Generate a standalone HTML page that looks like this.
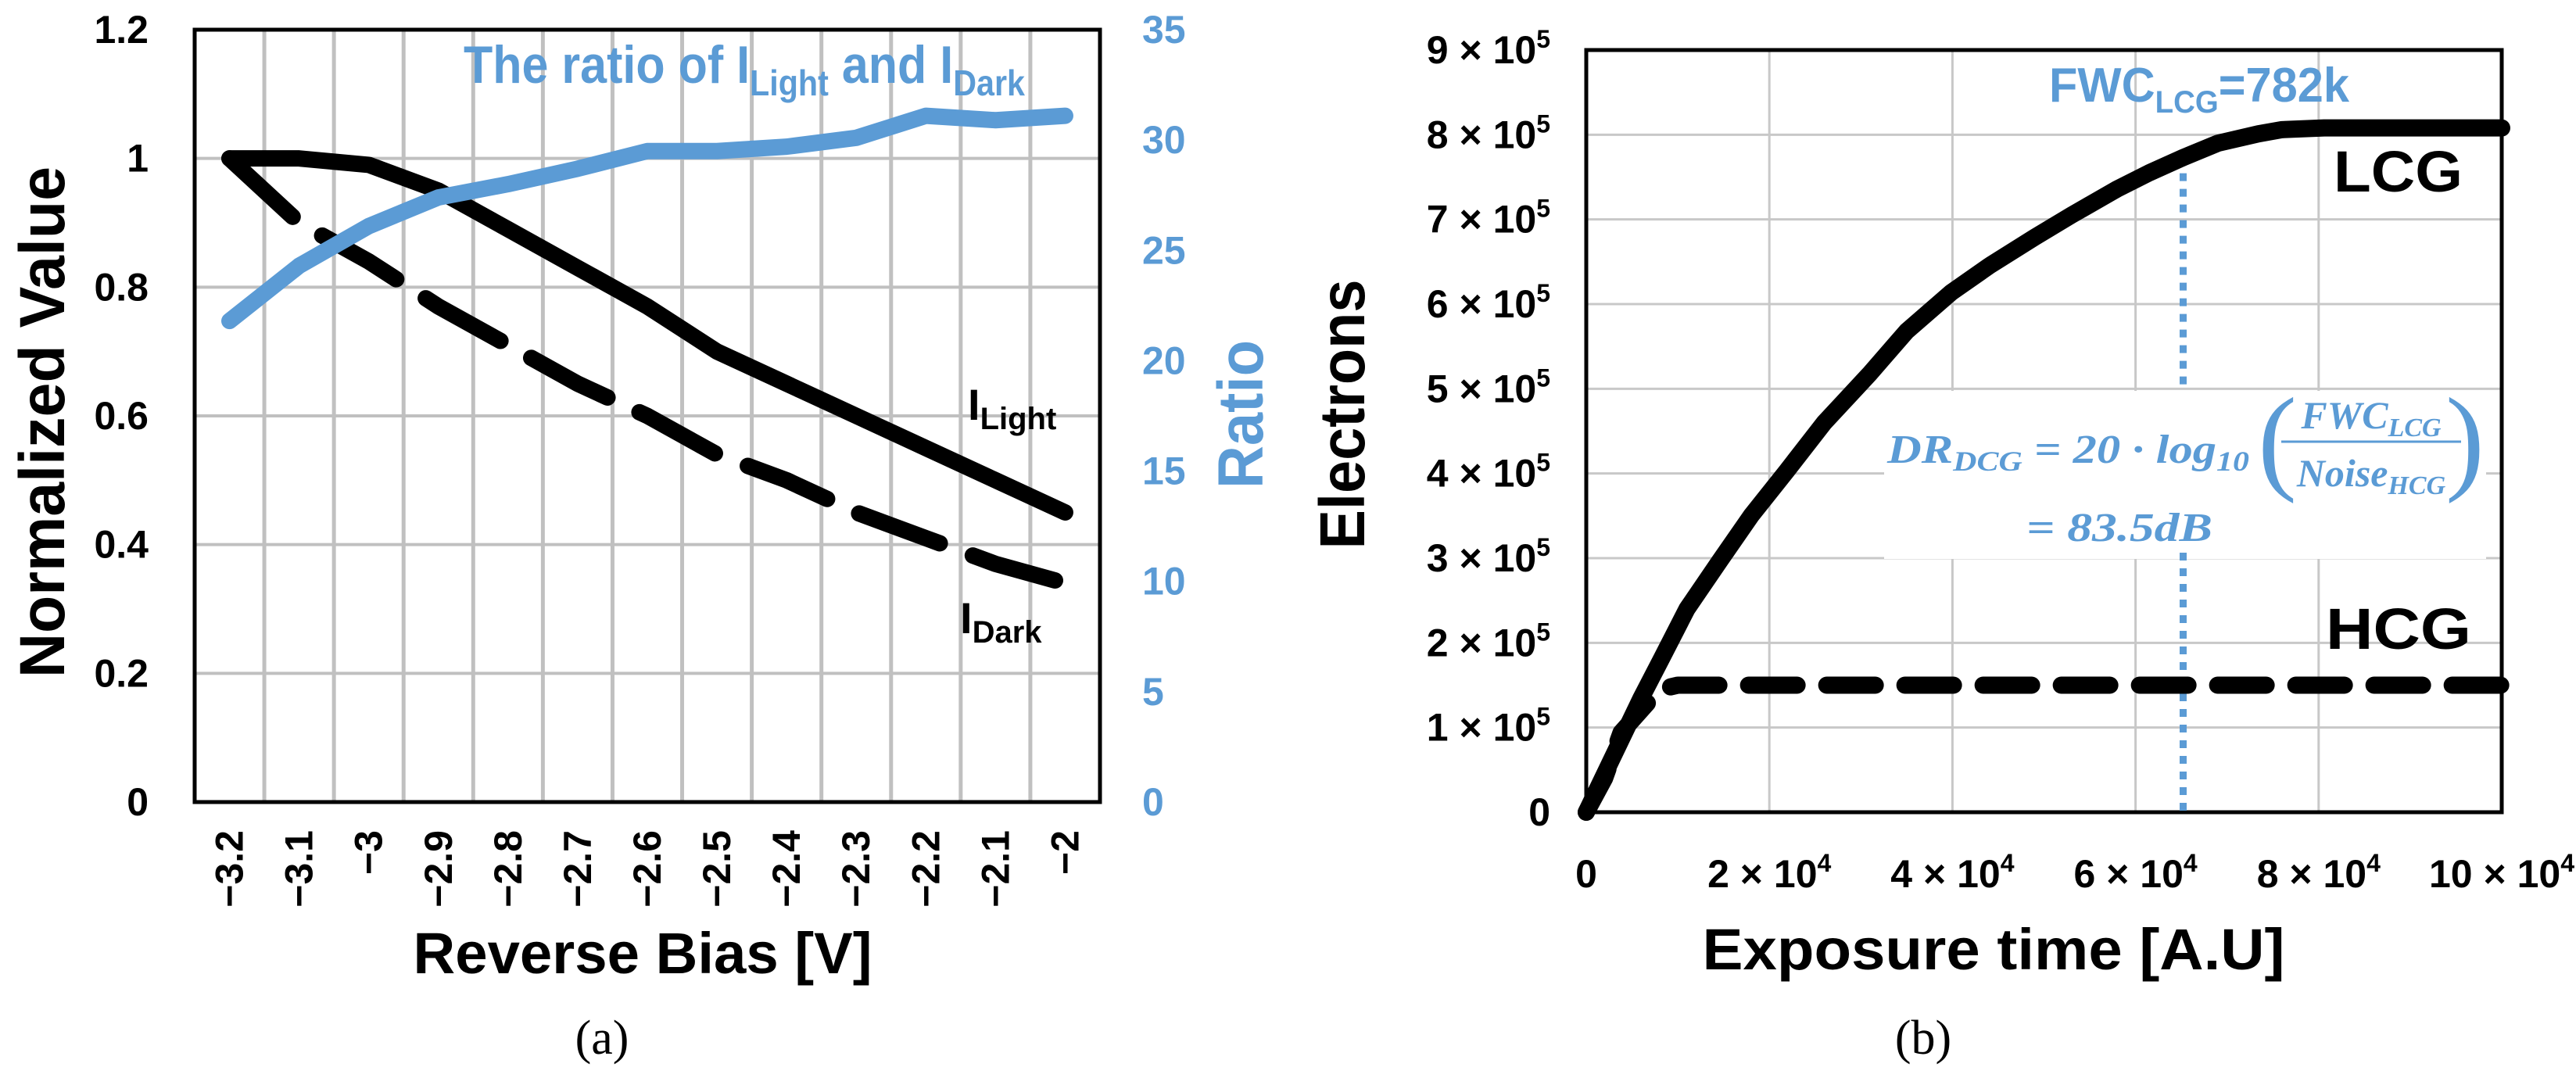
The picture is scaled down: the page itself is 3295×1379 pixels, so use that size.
<!DOCTYPE html>
<html><head><meta charset="utf-8"><style>
html,body{margin:0;padding:0;background:#fff;}
svg{display:block;font-family:"Liberation Sans",sans-serif;}
</style></head><body>
<svg id="fig" width="3295" height="1379" viewBox="0 0 3295 1379" xmlns="http://www.w3.org/2000/svg">
<g id="chartA"></g>
<g id="chartB"></g>
</svg>
<script>
// ---- Chart (a) data ----
const biasCategories = ["−3.2","−3.1","−3","−2.9","−2.8","−2.7","−2.6","−2.5","−2.4","−2.3","−2.2","−2.1","−2"];
const lightValues = [1.0,1.0,0.99,0.95,0.89,0.83,0.77,0.70,0.65,0.60,0.55,0.50,0.45];
const darkValues = [1.0,0.90,0.84,0.77,0.71,0.65,0.60,0.54,0.50,0.45,0.41,0.37,0.34];
const ratioValues = [21.8,24.3,26.1,27.4,28.0,28.7,29.5,29.5,29.7,30.1,31.1,30.9,31.1];
const leftTicks = [0,0.2,0.4,0.6,0.8,1,1.2];
const leftTickLabels = ["0","0.2","0.4","0.6","0.8","1","1.2"];
const rightTicks = [0,5,10,15,20,25,30,35];
// ---- Chart (b) data ----
const lcgTime = [0,2000,4000,6000,8300,11000,14600,18000,21900,26000,30900,35000,39900,44000,49000,53000,58000,61500,65200,69000,73400,76000,80600,100000];
const lcgElectrons = [0,45000,90000,135000,183000,240000,297000,350000,403000,460000,517000,568000,614000,645000,679000,705000,736000,755000,773000,790000,801000,806000,808000,808000];
const hcgTime = [0,2000,3800,8000,10000,100000];
const hcgElectrons = [0,40000,94000,145000,150000,150000];
const expTicks = [0,20000,40000,60000,80000,100000];
const expTickMant = ["0","2","4","6","8","10"];
const eleTicks = [0,100000,200000,300000,400000,500000,600000,700000,800000,900000];
const eleTickMant = ["0","1","2","3","4","5","6","7","8","9"];
const fwcTime = 65200;

const NS="http://www.w3.org/2000/svg";
const BLUE="#5b9bd5";
function mk(parent,tag,attrs,text){const e=document.createElementNS(NS,tag);for(const k in attrs)e.setAttribute(k,attrs[k]);if(text!==undefined)e.textContent=text;parent.appendChild(e);return e;}

// ===== Chart (a) =====
const A=document.getElementById('chartA');
const aL=249,aR=1407,aT=38,aB=1026;
const cw=(aR-aL)/biasCategories.length;
const xA=i=>aL+cw*(i+0.5);
const yL=v=>aB-v/1.2*(aB-aT);
const yR=v=>aB-v/35*(aB-aT);
for(let k=1;k<biasCategories.length;k++){
  const g=mk(A,'line',{x1:aL+cw*k,x2:aL+cw*k,y1:aT,y2:aB,stroke:'#c0c0c0','stroke-width':5});
  
  
}
leftTicks.forEach((v,i)=>{
  if(v>0&&v<1.2){const g=mk(A,'line',{x1:aL,x2:aR,y1:yL(v),y2:yL(v),stroke:'#c0c0c0','stroke-width':4});
  
  }
  const t=mk(A,'text',{x:190,y:yL(v),'text-anchor':'end','dominant-baseline':'central','font-size':50,'font-weight':'bold',fill:'#000'},leftTickLabels[i]);
  
  
});
rightTicks.forEach(v=>{
  const t=mk(A,'text',{x:1461,y:yR(v),'dominant-baseline':'central','font-size':50,'font-weight':'bold',fill:BLUE},String(v));
  
  
});
biasCategories.forEach((c,i)=>{
  const t=mk(A,'text',{x:0,y:0,transform:`translate(${xA(i)},1062) rotate(-90)`,'text-anchor':'end','dominant-baseline':'central','font-size':50,'font-weight':'bold',fill:'#000'},c);
  
  
});
mk(A,'rect',{x:aL,y:aT,width:aR-aL,height:aB-aT,fill:'none',stroke:'#000','stroke-width':5,});
function pts(xs,ys){return xs.map((x,i)=>x+','+ys[i]).join(' ');}
const darkLine=mk(A,'polyline',{points:pts(darkValues.map((_,i)=>xA(i)),darkValues.map(yL)),fill:'none',stroke:'#000','stroke-width':21,'stroke-dasharray':'110 45','stroke-linecap':'round','stroke-linejoin':'round'});


const lightLine=mk(A,'polyline',{points:pts(lightValues.map((_,i)=>xA(i)),lightValues.map(yL)),fill:'none',stroke:'#000','stroke-width':21,'stroke-linecap':'round','stroke-linejoin':'round'});


const ratioLine=mk(A,'polyline',{points:pts(ratioValues.map((_,i)=>xA(i)),ratioValues.map(yR)),fill:'none',stroke:BLUE,'stroke-width':21,'stroke-linecap':'round','stroke-linejoin':'round'});


</script>
<script>
(function(){
const A=document.getElementById('chartA');
A.insertAdjacentHTML('beforeend',`
<text x="593" y="106" font-size="68" font-weight="bold" fill="#5b9bd5" textLength="718" lengthAdjust="spacingAndGlyphs">The ratio of I<tspan font-size="46" dy="16">Light</tspan><tspan dy="-16"> and I</tspan><tspan font-size="46" dy="16">Dark</tspan></text>
<text x="1238" y="537" font-size="56" font-weight="bold" fill="#000">I<tspan font-size="40" dy="12">Light</tspan></text>
<text x="1228" y="810" font-size="56" font-weight="bold" fill="#000">I<tspan font-size="40" dy="12">Dark</tspan></text>
<text transform="translate(82,540) rotate(-90)" text-anchor="middle" font-size="82" font-weight="bold" fill="#000" textLength="654" lengthAdjust="spacingAndGlyphs">Normalized Value</text>
<text transform="translate(1615,530) rotate(-90)" text-anchor="middle" font-size="82" font-weight="bold" fill="#5b9bd5" textLength="190" lengthAdjust="spacingAndGlyphs">Ratio</text>
<text x="822" y="1245" text-anchor="middle" font-size="74" font-weight="bold" fill="#000" textLength="587" lengthAdjust="spacingAndGlyphs">Reverse Bias [V]</text>
<text x="770" y="1348" text-anchor="middle" font-size="62" font-family="Liberation Serif, serif" fill="#000">(a)</text>
`);
})();
</script>
<script>
(function(){
const B=document.getElementById('chartB');
const bL=2029,bR=3200,bT=64,bB=1039;
const xB=t=>bL+t/100000*(bR-bL);
const yB=e=>bB-e/900000*(bB-bT);
expTicks.forEach((t,i)=>{
  if(t>0&&t<100000){const g=mk(B,'line',{x1:xB(t),x2:xB(t),y1:bT,y2:bB,stroke:'#c8c8c8','stroke-width':3});
  
  }
  const lab=mk(B,'text',{x:xB(t),y:1135,'text-anchor':'middle','font-size':50,'font-weight':'bold',fill:'#000'});
  
  
  if(t===0){lab.textContent='0';}
  else{lab.innerHTML=expTickMant[i]+' × 10<tspan font-size="32" dy="-20">4</tspan>';}
});
eleTicks.forEach((e,i)=>{
  if(e>0&&e<900000){const g=mk(B,'line',{x1:bL,x2:bR,y1:yB(e),y2:yB(e),stroke:'#c8c8c8','stroke-width':3});
  
  }
  const lab=mk(B,'text',{x:1983,y:yB(e)+17,'text-anchor':'end','font-size':50,'font-weight':'bold',fill:'#000'});
  
  
  if(e===0){lab.textContent='0';}
  else{lab.innerHTML=eleTickMant[i]+' × 10<tspan font-size="32" dy="-20">5</tspan>';}
});
mk(B,'rect',{x:2410,y:500,width:770,height:215,fill:'#fff',});
mk(B,'rect',{x:bL,y:bT,width:bR-bL,height:bB-bT,fill:'none',stroke:'#000','stroke-width':5,});
const fx=xB(fwcTime);
const d1=mk(B,'line',{x1:fx,x2:fx,y1:yB(773000),y2:495,stroke:BLUE,'stroke-width':9,'stroke-dasharray':'10 10'});


const d2=mk(B,'line',{x1:fx,x2:fx,y1:707,y2:bB,stroke:BLUE,'stroke-width':9,'stroke-dasharray':'10 10'});


const hcg=mk(B,'polyline',{points:hcgTime.map((t,i)=>xB(t)+','+yB(hcgElectrons[i])).join(' '),fill:'none',stroke:'#000','stroke-width':22,'stroke-dasharray':'62 38','stroke-linecap':'round','stroke-linejoin':'round'});


const lcg=mk(B,'polyline',{points:lcgTime.map((t,i)=>xB(t)+','+yB(lcgElectrons[i])).join(' '),fill:'none',stroke:'#000','stroke-width':22,'stroke-linecap':'round','stroke-linejoin':'round'});


B.insertAdjacentHTML('beforeend',`
<text x="2621" y="130" font-size="62" font-weight="bold" fill="#5b9bd5" textLength="384" lengthAdjust="spacingAndGlyphs">FWC<tspan font-size="40" dy="14">LCG</tspan><tspan dy="-14">=782k</tspan></text>
<text x="2985" y="245" font-size="74" font-weight="bold" fill="#000" textLength="165" lengthAdjust="spacingAndGlyphs">LCG</text>
<text x="2975" y="830" font-size="74" font-weight="bold" fill="#000" textLength="186" lengthAdjust="spacingAndGlyphs">HCG</text>
<g font-family="Liberation Serif, serif" font-style="italic" font-weight="bold" fill="#5b9bd5">
<text x="2414" y="592" font-size="52" textLength="463" lengthAdjust="spacingAndGlyphs">DR<tspan font-size="36" dy="10">DCG</tspan><tspan dy="-10"> = 20 · log</tspan><tspan font-size="36" dy="10">10</tspan></text>
<text x="2888" y="612" font-size="150" font-style="normal" font-weight="normal">(</text>
<text x="3128" y="612" font-size="150" font-style="normal" font-weight="normal">)</text>
<text x="3033" y="548" font-size="50" text-anchor="middle">FWC<tspan font-size="34" dy="10">LCG</tspan></text>
<line x1="2918" x2="3148" y1="565" y2="565" stroke="#5b9bd5" stroke-width="3"/>
<text x="3033" y="622" font-size="50" text-anchor="middle">Noise<tspan font-size="34" dy="10">HCG</tspan></text>
<text x="2592" y="692" font-size="52" textLength="238" lengthAdjust="spacingAndGlyphs">= 83.5dB</text>
</g>
<text transform="translate(1745,530) rotate(-90)" text-anchor="middle" font-size="82" font-weight="bold" fill="#000" textLength="345" lengthAdjust="spacingAndGlyphs">Electrons</text>
<text x="2550" y="1240" text-anchor="middle" font-size="74" font-weight="bold" fill="#000" textLength="745" lengthAdjust="spacingAndGlyphs">Exposure time [A.U]</text>
<text x="2460" y="1348" text-anchor="middle" font-size="62" font-family="Liberation Serif, serif" fill="#000">(b)</text>
`);
})();
</script>
</body></html>
